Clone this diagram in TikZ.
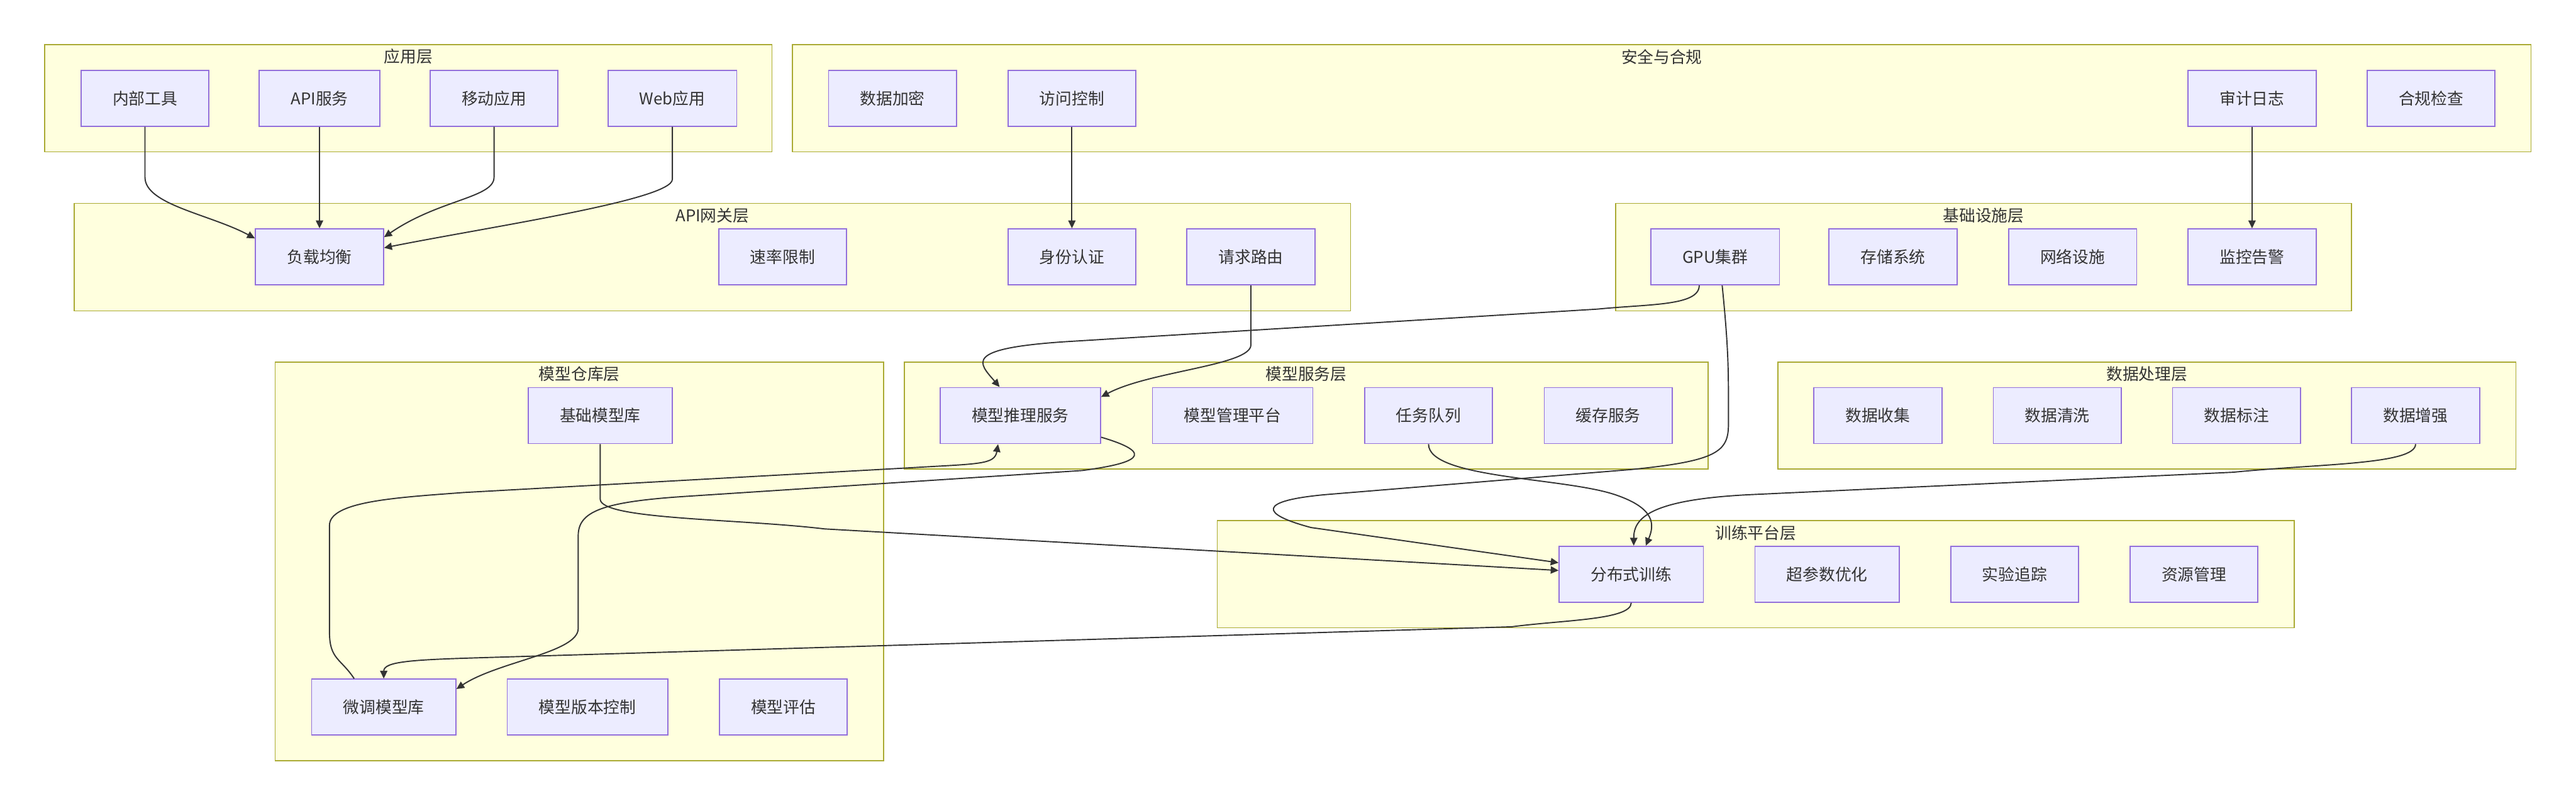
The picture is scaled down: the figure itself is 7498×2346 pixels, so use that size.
\documentclass[tikz,border=0pt]{standalone}
\usepackage{fontspec}
\newfontfamily\cjk{Noto Sans CJK SC}
\usetikzlibrary{arrows.meta}
\definecolor{tierfill}{HTML}{FFFFDE}
\definecolor{tierline}{HTML}{AAAA33}
\definecolor{boxfill}{HTML}{ECECFF}
\definecolor{boxline}{HTML}{9370DB}
\definecolor{ink}{HTML}{333333}

\begin{document}
\begin{tikzpicture}[x=0.01cm, y=-0.01cm,
    tier/.style={draw=tierline, fill=tierfill, line width=0.9pt},
    tiertitle/.style={text=ink, font=\cjk\fontsize{13.4}{16}\selectfont, inner sep=0pt},
    box/.style={draw=boxline, fill=boxfill, line width=0.9pt, text=ink,
        font=\cjk\fontsize{13.4}{16}\selectfont, minimum height=1.63cm, inner xsep=0.92cm},
    link/.style={draw=ink, line width=1pt, -{Triangle[length=6.5pt,width=6pt]}}]
    \useasboundingbox (0,0) rectangle (7498,2346);

    % 各层的底框
    \foreach \n/\xa/\ya/\xb/\yb/\t in {app/130/130/2247/442/应用层, sec/2307/130/7367/442/安全与合规,
        gw/216/592/3931/905/API网关层, infra/4703/592/6844/905/基础设施层,
        repo/801/1054/2572/2215/模型仓库层, serve/2632/1054/4972/1366/模型服务层,
        data/5175/1054/7323/1366/数据处理层, train/3543/1516/6678/1828/训练平台层} {
        \draw[tier] (\xa,\ya) rectangle (\xb,\yb);
        \node[tiertitle] (\n) at ({(\xa+\xb)/2},{\ya+35}) {\t};
    }

    % 第一行
    \foreach \n/\x/\t in {ntool/422/内部工具, napi/930/API服务, nmob/1438/移动应用, nweb/1957/Web应用,
        nenc/2598/数据加密, nacc/3120/访问控制, naud/6555/审计日志, ncomp/7076/合规检查} {
        \node[box] (\n) at (\x,286) {\t};
    }
    % 第二行
    \foreach \n/\x/\t in {lb/930/负载均衡, rate/2278/速率限制, auth/3120/身份认证, route/3641/请求路由,
        gpu/4992/GPU集群, store/5510/存储系统, net/6033/网络设施, mon/6555/监控告警} {
        \node[box] (\n) at (\x,748) {\t};
    }
    % 第三行
    \foreach \n/\x/\t in {bm/1747/基础模型库, mis/2970/模型推理服务, mgmt/3588/模型管理平台,
        tq/4158/任务队列, cache/4681/缓存服务, dcol/5466/数据收集, dcln/5988/数据清洗,
        dlab/6510/数据标注, daug/7031/数据增强} {
        \node[box] (\n) at (\x,1210) {\t};
    }
    % 第四、五行
    \foreach \n/\x/\t in {dt/4748/分布式训练, hpo/5318/超参数优化, exp/5864/实验追踪, res/6386/资源管理} {
        \node[box] (\n) at (\x,1672) {\t};
    }
    \foreach \n/\x/\t in {ft/1117/微调模型库, ver/1710/模型版本控制, eval/2280/模型评估} {
        \node[box] (\n) at (\x,2059) {\t};
    }

    % 连线
    \draw[link] (ntool.south) -- ++(0,147) .. controls +(0,80) and +(-130,-70) .. (lb.164);
    \draw[link] (napi.south) -- (lb.north);
    \draw[link] (nmob.south) -- ++(0,147) .. controls +(0,60) and +(160,-110) .. (lb.17);
    \draw[link] (nweb.south) -- ++(0,153) .. controls +(0,60) and +(300,-60) .. (lb.8);
    \draw[link] (nacc.south) -- (auth.north);
    \draw[link] (naud.south) -- (mon.north);
    \draw[link] (route.south) -- ++(0,173) .. controls +(0,60) and +(140,-75) .. (mis.13);
    \draw[link] (gpu.241) .. controls +(0,60) and +(150,-15) .. (4650,900) -- (3100,995)
        .. controls +(-300,20) and +(-60,-70) .. (mis.126);
    \draw[link] (gpu.-76) .. controls +(20,200) and +(0,-150) .. (5031,1235)
        .. controls +(0,80) and +(250,-25) .. (4749,1367) -- (3860,1440)
        .. controls +(-200,18) and +(-150,-40) .. (3816,1536) -- (dt.171);
    \draw[link] (bm.south) -- ++(0,160) .. controls +(0,60) and +(-250,-30) .. (2400,1540) -- (dt.177);
    \draw[link] (mis.-15) .. controls +(170,50) and +(150,-20) .. (3150,1370) -- (2000,1445)
        .. controls +(-250,16) and +(0,-70) .. (1683,1560) -- (1683,1830)
        .. controls +(0,70) and +(120,-80) .. (ft.14);
    \draw[link] (ft.136) .. controls +(-40,-60) and +(0,80) .. (959,1840) -- (959,1530)
        .. controls +(0,-70) and +(-200,15) .. (1350,1434) -- (2650,1362)
        .. controls +(200,-12) and +(-10,60) .. (mis.-128);
    \draw[link] (dt.south) .. controls +(0,50) and +(150,-20) .. (4400,1825) -- (1400,1915)
        .. controls +(-200,6) and +(0,-50) .. (ft.north);
    \draw[link] (tq.south) .. controls +(0,100) and +(-150,-50) .. (4700,1440)
        .. controls +(120,40) and +(25,-60) .. (dt.63);
    \draw[link] (daug.south) .. controls +(0,60) and +(250,-25) .. (6500,1375) -- (5100,1440)
        .. controls +(-300,14) and +(0,-80) .. (dt.85);
\end{tikzpicture}
\end{document}
